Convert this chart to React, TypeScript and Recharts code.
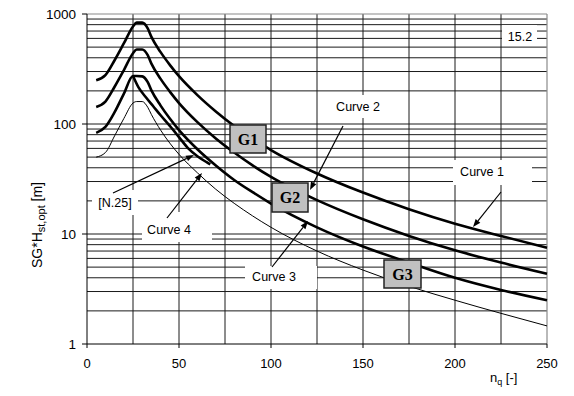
import { LineChart, Line, XAxis, YAxis, ReferenceLine } from 'recharts'

const nq = [5, 10, 15, 20, 25, 27, 30, 33, 35, 40, 45, 50, 60, 70, 80, 90, 100, 125, 150, 175, 200, 225, 250]
const curve1 = [250, 278, 380, 540, 770, 835, 835, 740, 620, 450, 345, 272, 183, 130, 96, 74, 58, 35.5, 23.8, 16.8, 12.4, 9.6, 7.5]
const curve2 = [143, 160, 218, 308, 440, 476, 476, 422, 354, 257, 197, 155, 104, 74, 55, 42, 33, 20.3, 13.6, 9.6, 7.1, 5.5, 4.35]
const curve3 = [83, 94, 128, 188, 273, 273, 271, 240, 202, 147, 112, 88, 59, 42, 31, 24, 18.9, 11.5, 7.7, 5.5, 4.0, 3.1, 2.5]
const curve4 = [50, 55, 78, 112, 155, 160, 160, 142, 122, 88, 67, 53, 36, 25.5, 19, 14.6, 11.5, 7.0, 4.7, 3.35, 2.5, 1.9, 1.46]

// short [N.25] branch leaving the peak of curve 3
const n25X = [25, 28, 32, 36, 40, 45, 50, 55, 60, 65, 67]
const n25Y = [273, 215, 175, 145, 120, 96, 76, 60, 51, 45, 43]

const xTicks = [0, 50, 100, 150, 200, 250]
const yTicks = [1, 10, 100, 1000]
const gridX = [25, 50, 75, 100, 125, 150, 175, 200, 225]
const gridY = [2, 3, 4, 5, 6, 7, 8, 9, 10, 20, 30, 40, 50, 60, 70, 80, 90, 100, 200, 300, 400, 500, 600, 700, 800, 900]

const toRows = (xs: number[], ys: number[]) => xs.map((x, i) => ({ x, y: ys[i] }))

const sans = "Arial, 'Liberation Sans', sans-serif"
const serif = "'Times New Roman', 'Liberation Serif', serif"

// annotation layer (pixel positions)
const whiteBoxes = [
  { x: 502, y: 25, w: 35, h: 21 },
  { x: 328, y: 95, w: 54, h: 23 },
  { x: 453, y: 160, w: 79, h: 25 },
  { x: 92, y: 190, w: 46, h: 25 },
  { x: 142, y: 212, w: 70, h: 30 },
  { x: 245, y: 266, w: 72, h: 23 },
]
const labels = [
  { text: '15.2', x: 520, y: 41 },
  { text: 'Curve 2', x: 358, y: 111 },
  { text: 'Curve 1', x: 482, y: 176 },
  { text: '[N.25]', x: 115, y: 207 },
  { text: 'Curve 4', x: 169, y: 234 },
  { text: 'Curve 3', x: 274, y: 281 },
]
const gBoxes = [
  { text: 'G1', x: 230, y: 125, w: 36, h: 28 },
  { text: 'G2', x: 272, y: 183, w: 36, h: 29 },
  { text: 'G3', x: 384, y: 260, w: 37, h: 28 },
]
const arrows = [
  { x1: 343, y1: 126, x2: 310, y2: 190 },
  { x1: 501, y1: 192, x2: 473, y2: 227 },
  { x1: 113, y1: 193, x2: 194, y2: 155 },
  { x1: 167, y1: 218, x2: 202, y2: 173 },
  { x1: 272, y1: 267, x2: 308, y2: 221 },
]

function Arrow({ x1, y1, x2, y2 }: { x1: number; y1: number; x2: number; y2: number }) {
  const dx = x2 - x1
  const dy = y2 - y1
  const len = Math.hypot(dx, dy)
  const ux = dx / len
  const uy = dy / len
  const bx = x2 - ux * 8
  const by = y2 - uy * 8
  const pts = `${x2},${y2} ${bx - uy * 3},${by + ux * 3} ${bx + uy * 3},${by - ux * 3}`
  return (
    <g>
      <line x1={x1} y1={y1} x2={bx} y2={by} stroke="#000" strokeWidth={1.2} />
      <polygon points={pts} fill="#000" />
    </g>
  )
}

export default function App() {
  return (
    <div style={{ position: 'absolute', left: 0, top: 0, width: 574, height: 396, background: '#fff' }}>
      <LineChart width={574} height={396} margin={{ top: 14, right: 27, left: 0, bottom: 22 }}>
        <XAxis
          type="number"
          dataKey="x"
          domain={[0, 250]}
          ticks={xTicks}
          height={30}
          tickSize={4}
          tickMargin={11}
          axisLine={{ stroke: '#000' }}
          tickLine={{ stroke: '#000' }}
          tick={{ fontFamily: sans, fontSize: 13, fill: '#000' }}
        />
        <YAxis
          type="number"
          scale="log"
          domain={[1, 1000]}
          ticks={yTicks}
          allowDataOverflow
          width={87}
          tickSize={5}
          tickMargin={6}
          axisLine={{ stroke: '#000' }}
          tickLine={{ stroke: '#000' }}
          tick={{ fontFamily: sans, fontSize: 13.5, fill: '#000' }}
        />
        {gridY.map(v => (
          <ReferenceLine key={'gy' + v} y={v} stroke="#1a1a1a" strokeWidth={1} />
        ))}
        {gridX.map(v => (
          <ReferenceLine key={'gx' + v} x={v} stroke="#1a1a1a" strokeWidth={1} />
        ))}
        <ReferenceLine y={1000} stroke="#8a8a8a" strokeWidth={1.2} />
        <ReferenceLine x={250} stroke="#8a8a8a" strokeWidth={1.2} />
        <Line data={toRows(nq, curve4)} dataKey="y" type="monotone" stroke="#000" strokeWidth={1} dot={false} isAnimationActive={false} />
        <Line data={toRows(n25X, n25Y)} dataKey="y" type="monotone" stroke="#000" strokeWidth={2.6} dot={false} isAnimationActive={false} />
        <Line data={toRows(nq, curve3)} dataKey="y" type="monotone" stroke="#000" strokeWidth={2.6} dot={false} isAnimationActive={false} />
        <Line data={toRows(nq, curve2)} dataKey="y" type="monotone" stroke="#000" strokeWidth={2.6} dot={false} isAnimationActive={false} />
        <Line data={toRows(nq, curve1)} dataKey="y" type="monotone" stroke="#000" strokeWidth={2.6} dot={false} isAnimationActive={false} />
      </LineChart>
      <svg width={574} height={396} style={{ position: 'absolute', left: 0, top: 0, pointerEvents: 'none' }}>
        {whiteBoxes.map((b, i) => (
          <rect key={'wb' + i} x={b.x} y={b.y} width={b.w} height={b.h} fill="#fff" />
        ))}
        {labels.map(l => (
          <text key={l.text} x={l.x} y={l.y} textAnchor="middle" fontFamily={sans} fontSize={12.5} fill="#000">
            {l.text}
          </text>
        ))}
        {arrows.map((a, i) => (
          <Arrow key={'ar' + i} {...a} />
        ))}
        {gBoxes.map(g => (
          <g key={g.text}>
            <rect x={g.x} y={g.y} width={g.w} height={g.h} fill="#c0c0c0" stroke="#222" strokeWidth={1.5} />
            <text x={g.x + g.w / 2} y={g.y + g.h / 2 + 5.5} textAnchor="middle" fontFamily={serif} fontWeight="bold" fontSize={16} fill="#000">
              {g.text}
            </text>
          </g>
        ))}
        <text transform="translate(42,225) rotate(-90)" textAnchor="middle" fontFamily={sans} fontSize={14} fill="#000">
          SG*H
          <tspan fontSize={11} dy={3}>st,opt</tspan>
          <tspan dy={-3}>{'  [m]'}</tspan>
        </text>
        <text x={490} y={382} fontFamily={sans} fontSize={13} fill="#000">
          n
          <tspan fontSize={9} dy={3}>q</tspan>
          <tspan dy={-3}>{' [-]'}</tspan>
        </text>
      </svg>
    </div>
  )
}
